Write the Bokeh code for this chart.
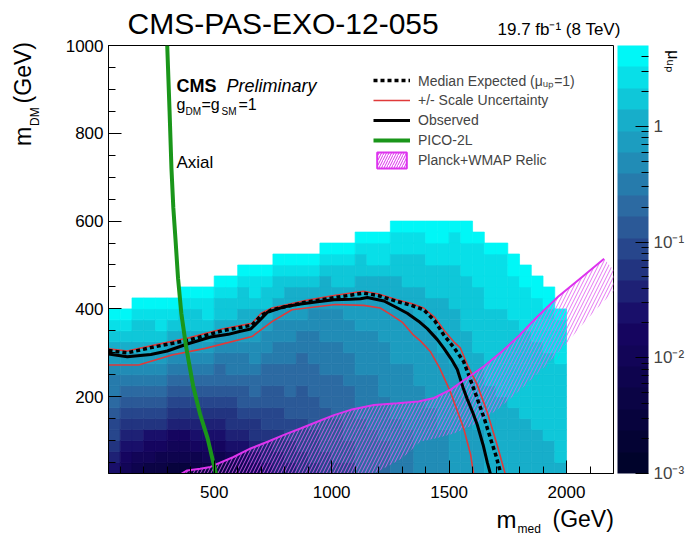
import math
from bokeh.plotting import figure
from bokeh.models import (ColumnDataSource, LogColorMapper, ColorBar, FixedTicker,
                          CustomJSTickFormatter, SingleIntervalTicker, Label, Legend,
                          LegendItem, Range1d, LinearAxis)
from bokeh.transform import transform
from bokeh.embed import file_html
from bokeh.resources import INLINE

# ---------------- data ----------------
med_bin_edges = [50 + 50 * i for i in range(40)]   # m_med bin edges (GeV)
dm_bin_edges = [25 + 25 * j for j in range(24)]    # m_DM bin edges (GeV)

# colour band (0..19 written as "0".."j") of every filled cell, one string per
# m_med column, from the lowest m_DM bin upwards
level_chars = "0123456789abcdefghij"
mu_levels_by_column = [
    "789aabcddefghij",
    "56789abcdefghij",
    "45789abcdefghhij",
    "35679abcdefghhij",
    "34679abcdefghiij",
    "245689abcdefghij",
    "245689abcdefghhij",
    "346789abcdefghhij",
    "356789abcdefghiij",
    "346789abccdefghhij",
    "457899abcddefghhij",
    "56789abbcddefgghhij",
    "67899abccdeefgghiij",
    "7889aabbccdeefghhij",
    "8899aabbccddeefghhij",
    "899aabbcccddeefgghij",
    "99aaabbbcccddefgghij",
    "9aaabbbcccdddeefghij",
    "aabbbbcccdddeeefgghij",
    "abbbbccccdddeeefghhij",
    "abbcccccdddeeeffghhij",
    "cccccddddeeeefffgghhij",
    "ccccdddddeeeefffgghiij",
    "cccddddeeeeeffffgghiij",
    "dddddeeeeefffffggghhiij",
    "ddddeeeeeefffffgghhhiij",
    "eeeeeeeeffffffggghhhiij",
    "eeeeeefffffffggghhhiijj",
    "eeeefffffffggggghhhiijj",
    "ffffffffffggggghhhhiiij",
    "fffffffgggggghhhhhiiijj",
    "ffffggggggghhhhhhiiiij",
    "gggggggghhhhhhhiiiiij",
    "ggggggghhhhhhhhiiiiij",
    "gggggghhhhhhhhiiiijj",
    "ggggghhhhhhhhiiiijj",
    "gggghhhhhhhhiiiijj",
    "ggghhhhhhhhiiiijj",
    "ghhhhhhhhhiiiij",
]
mu_min, mu_max, n_bands = 1e-3, 5.0, 20

obs_x = [50, 130, 230, 300, 385, 485, 560, 612, 655, 690, 726, 800, 868, 940, 1010, 1080,
         1123, 1152, 1223, 1280, 1322, 1370, 1407, 1450, 1478, 1510, 1535, 1560, 1577, 1600,
         1620, 1645, 1663, 1677]
obs_y = [297, 291, 296, 304, 320, 336, 342, 349, 354, 372, 392, 405, 411, 416, 421, 422,
         423, 426, 418, 402, 390, 372, 355, 330, 310, 285, 262, 220, 195, 165,
         136, 90, 50, 22]

exp_x = [50, 130, 250, 392, 534, 661, 700, 746, 888, 1016, 1136, 1200, 1278, 1340, 1392,
         1440, 1477, 1520, 1562, 1590, 1619, 1650, 1676, 1700, 1718]
exp_y = [305, 300, 314, 329, 350, 363, 385, 398, 415, 426, 436, 430, 417, 408, 398,
         372, 341, 312, 280, 240, 197, 150, 105, 65, 29]

scale_up_x = [50, 130, 250, 392, 534, 661, 700, 746, 888, 1016, 1136, 1200, 1278, 1340,
              1392, 1440, 1480, 1520, 1548, 1580, 1619, 1661, 1704, 1740]
scale_up_y = [309, 304, 318, 334, 354, 367, 390, 402, 419, 431, 440, 434, 421, 412,
              402, 380, 350, 325, 311, 270, 228, 167, 91, 22]

scale_dn_x = [50, 178, 320, 462, 661, 746, 831, 1016, 1136, 1207, 1252, 1300, 1349, 1380,
              1420, 1460, 1505, 1540, 1562, 1592, 1605]
scale_dn_y = [272, 272, 295, 310, 337, 371, 398, 410, 408, 402, 387, 370, 340, 326,
              303, 265, 212, 160, 128, 67, 22]

pico_x = [300, 310, 318, 326, 335, 346, 360, 380, 410, 440, 472, 507]
pico_y = [1000, 850, 720, 630, 560, 470, 390, 315, 225, 160, 105, 25]

relic_x = [350, 385, 440, 484, 513, 580, 655, 730, 797, 870, 939, 1010, 1081, 1180, 1280,
           1370, 1436, 1507, 1578, 1650, 1725, 1800, 1868, 1965, 2065, 2160]
relic_y = [21, 32, 36, 40, 47, 62, 82, 98, 113, 128, 143, 158, 170, 181, 185,
           189, 197, 216, 243, 270, 303, 340, 378, 428, 472, 514]
relic_band_lo_x = [2230, 2200, 2120, 2060, 2002, 1900, 1803, 1700, 1600, 1520, 1440, 1378,
                   1300, 1200, 1100, 345]
relic_band_lo_y = [470, 440, 395, 360, 322, 265, 215, 168, 135, 116, 105, 98,
                   60, 30, 10, 10]

colorbar_ticks = [1e-3, 1e-2, 1e-1, 1.0]

# ---------------- style helpers ----------------
FONT = "Liberation Sans"
# ROOT "kDeepSea" gradient
stops = [0.0, 0.34, 0.61, 0.84, 1.0]
reds = [0.00, 0.09, 0.18, 0.09, 0.00]
greens = [0.01, 0.02, 0.39, 0.68, 0.97]
blues = [0.17, 0.39, 0.62, 0.79, 0.97]


def grad(t, comp):
    for k in range(len(stops) - 1):
        if t <= stops[k + 1]:
            u = (t - stops[k]) / (stops[k + 1] - stops[k])
            return comp[k] + u * (comp[k + 1] - comp[k])
    return comp[-1]


palette = []
for i in range(n_bands):
    t = i / (n_bands - 1)
    palette.append("#%02x%02x%02x" % tuple(int(round(255 * grad(t, c))) for c in (reds, greens, blues)))

mapper = LogColorMapper(palette=palette, low=mu_min, high=mu_max)

# ---------------- cells ----------------
lmin, lmax = math.log10(mu_min), math.log10(mu_max)
cells = dict(left=[], right=[], bottom=[], top=[], mu=[])
for c, col in enumerate(mu_levels_by_column):
    for r, ch in enumerate(col):
        lvl = level_chars.index(ch)
        cells["left"].append(med_bin_edges[c])
        cells["right"].append(med_bin_edges[c + 1])
        cells["bottom"].append(dm_bin_edges[r])
        cells["top"].append(dm_bin_edges[r + 1])
        cells["mu"].append(10 ** (lmin + (lvl + 0.5) * (lmax - lmin) / n_bands))

# ---------------- figure ----------------
FRAME_LEFT, FRAME_TOP, FRAME_BOTTOM = 108, 45, 473
p = figure(frame_width=505, frame_height=428, min_border_left=108, min_border_right=78,
           min_border_top=45, min_border_bottom=63,
           x_range=Range1d(50, 2200), y_range=Range1d(25, 1000),
           output_backend="svg", toolbar_location=None,
           background_fill_color="white", border_fill_color="white")
p.xgrid.grid_line_color = None
p.ygrid.grid_line_color = None
p.outline_line_color = "black"
p.outline_line_width = 1

p.quad(left="left", right="right", bottom="bottom", top="top",
       source=ColumnDataSource(cells),
       fill_color=transform("mu", mapper), line_color=transform("mu", mapper), line_width=0.7)

MAG = "#dd33ee"
p.patch(x=relic_x + relic_band_lo_x, y=relic_y + relic_band_lo_y,
        fill_color=None, line_color=None, hatch_pattern="/", hatch_color="#e060f0",
        hatch_alpha=0.85, hatch_scale=7, hatch_weight=1)
# legend proxy: a zero-size box at the start of the relic curve (outside the frame)
relic_leg = p.quad(left=relic_x[:1], right=relic_x[:1], bottom=relic_y[:1], top=relic_y[:1],
                   fill_color=None, line_color=MAG, line_width=2,
                   hatch_pattern="/", hatch_color=MAG, hatch_scale=5, hatch_weight=1)

RED = "#e03a3a"
up_r = p.line(scale_up_x, scale_up_y, line_color=RED, line_width=1.6)
p.line(scale_dn_x, scale_dn_y, line_color=RED, line_width=1.6)
exp_r = p.line(exp_x, exp_y, line_color="black", line_width=3.5, line_dash="4 3")
obs_r = p.line(obs_x, obs_y, line_color="black", line_width=3)
p.line(relic_x, relic_y, line_color=MAG, line_width=2)
pico_r = p.line(pico_x, pico_y, line_color="#1a961a", line_width=4)

# axes (ROOT style: ticks inside)
for ax, interval, nminor in ((p.xaxis, 500, 5), (p.yaxis, 200, 4)):
    ax.ticker = SingleIntervalTicker(interval=interval, num_minor_ticks=nminor)
    ax.major_tick_in = 13
    ax.major_tick_out = 0
    ax.minor_tick_in = 7
    ax.minor_tick_out = 0
    ax.axis_line_color = "black"
    ax.major_tick_line_color = "black"
    ax.minor_tick_line_color = "black"
    ax.major_label_text_font = FONT
    ax.major_label_text_font_size = "17px"
    ax.major_label_text_color = "black"
p.xaxis.major_label_standoff = 12
p.yaxis.major_label_standoff = 5

legend = Legend(items=[
    LegendItem(label="Median Expected (μᵤₚ=1)", renderers=[exp_r]),
    LegendItem(label="+/- Scale Uncertainty", renderers=[up_r]),
    LegendItem(label="Observed", renderers=[obs_r]),
    LegendItem(label="PICO-2L", renderers=[pico_r]),
    LegendItem(label="Planck+WMAP Relic", renderers=[relic_leg]),
], location=(265, 303), glyph_width=37, glyph_height=20, label_height=20,
    label_standoff=8, spacing=0, padding=0, margin=0,
    label_text_font=FONT, label_text_font_size="14px",
    border_line_color=None, background_fill_alpha=0)
p.add_layout(legend)

minor = [m * 10.0 ** e for e in range(-3, 1) for m in range(2, 10) if m * 10.0 ** e < mu_max]
sup_code = """
const e = Math.round(Math.log10(tick));
if (e == 0) { return "1"; }
const sup = {"-": "\u207b", "0": "\u2070", "1": "\u00b9", "2": "\u00b2", "3": "\u00b3"};
return "10" + String(e).split("").map(c => sup[c]).join("");
"""
cb = ColorBar(color_mapper=mapper, location=(509, 0), width=31, height=428,
              padding=0, margin=0,
              ticker=FixedTicker(ticks=colorbar_ticks, minor_ticks=minor),
              formatter=CustomJSTickFormatter(code=sup_code),
              major_label_text_font=FONT, major_label_text_font_size="17px",
              label_standoff=5,
              major_tick_line_color="black", major_tick_in=13, major_tick_out=0,
              minor_tick_line_color="black", minor_tick_in=7, minor_tick_out=0,
              bar_line_color=None, border_line_color=None, background_fill_alpha=0)
p.add_layout(cb)


# ---------------- texts inside the frame ----------------
def add_text(text, px, py, size, style="normal"):
    p.add_layout(Label(x=px - FRAME_LEFT, y=FRAME_BOTTOM - py, x_units="screen", y_units="screen",
                       text=text, text_font=FONT,
                       text_font_size=f"{size}px", text_font_style=style,
                       text_align="left", text_baseline="alphabetic", text_color="black"))


add_text("CMS", 176, 85, 18, "bold")
add_text("Preliminary", 226, 85, 18, "italic")
add_text("g", 176, 104, 16)
add_text("DM", 185, 111, 10)
add_text("=g", 201, 104, 16)
add_text("SM", 221, 111, 10)
add_text("=1", 238, 104, 16)
add_text("Axial", 176, 162, 17)


# ---------------- horizontal texts outside the frame (colour-bar titles, not clipped) ----------------
def outer_text(text, px, py, size, style="normal"):
    top = py - 0.905 * size
    box_h = 1.117 * size + 1
    p.add_layout(ColorBar(color_mapper=mapper, orientation="horizontal",
                          location=(px - FRAME_LEFT, FRAME_BOTTOM - (top + box_h)),
                          width=1, height=1, padding=0, margin=0, title=text, title_standoff=0,
                          title_text_font=FONT, title_text_font_size=f"{size}px",
                          title_text_font_style=style, title_text_color="black",
                          scale_alpha=0, bar_line_color=None, border_line_color=None,
                          background_fill_alpha=0, ticker=FixedTicker(ticks=[]),
                          label_standoff=0, major_tick_in=0, major_tick_out=0,
                          major_tick_line_color=None, minor_tick_line_color=None))


outer_text("CMS-PAS-EXO-12-055", 127, 33, 30)
outer_text("19.7 fb⁻¹ (8 TeV)", 497, 35, 17)
outer_text("m", 496, 527, 24)
outer_text("med", 517, 533, 12)
outer_text("(GeV)", 552, 527, 23)


# ---------------- rotated axis titles (extra label-only axes) ----------------
def data_y(py):
    return 25 + (FRAME_BOTTOM - py) * 975 / 428


def label_axis(labels, size, standoff, orientation):
    ticks = [round(data_y(py)) for py in labels]
    ax = LinearAxis(ticker=FixedTicker(ticks=ticks),
                    major_label_overrides={t: s for t, s in zip(ticks, labels.values())},
                    major_label_orientation=orientation, major_label_standoff=standoff,
                    major_label_text_font=FONT, major_label_text_font_size=f"{size}px",
                    major_label_text_color="black",
                    major_tick_in=0, major_tick_out=0, minor_tick_in=0, minor_tick_out=0,
                    major_tick_line_color=None, minor_tick_line_color=None, axis_line_color=None)
    return ax


p.add_layout(label_axis({116: "DM"}, 12, 20, "vertical"), "left")
p.add_layout(label_axis({136: "m", 72: "(GeV)"}, 23, -11, "vertical"), "left")
p.add_layout(label_axis({50: "μᵤₚ"}, 16, 60, -math.pi / 2), "right")

open("out.html", "w").write(file_html(p, INLINE))
